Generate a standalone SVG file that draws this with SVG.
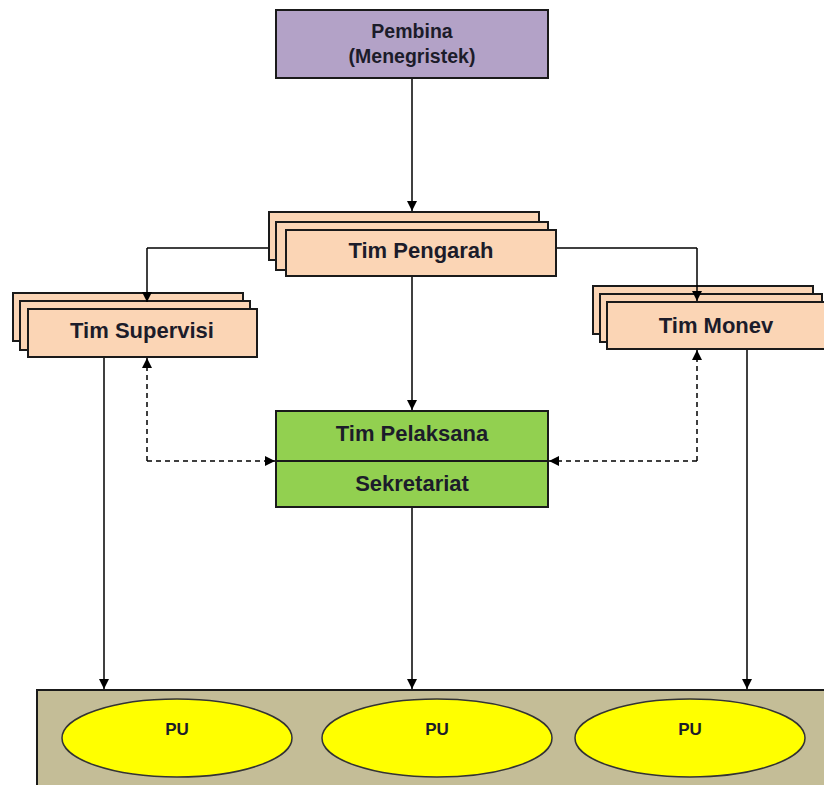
<svg xmlns="http://www.w3.org/2000/svg" width="824" height="785" viewBox="0 0 824 785">
<defs>
<style>
.box{stroke:#1a1a1a;stroke-width:2}
.peach{fill:#fbd5b5}
.t{font-family:"Liberation Sans",Arial,sans-serif;font-weight:bold;fill:#1c1c2a;text-anchor:middle}
.big{font-size:22px}
.mid{font-size:19.5px}
.sm{font-size:17px}
.ln{stroke:#000;stroke-width:1.5;fill:none}
.dash{stroke:#000;stroke-width:1.5;fill:none;stroke-dasharray:5,4}
</style>
<marker id="ah" viewBox="0 0 10 10" refX="10" refY="5" markerWidth="10" markerHeight="10" markerUnits="userSpaceOnUse" orient="auto">
<path d="M0,0 L10,5 L0,10 z" fill="#000"/>
</marker>
</defs>
<rect width="824" height="785" fill="#fff"/>

<g id="pu-area">
<rect x="37" y="690" width="800" height="110" fill="#c4bd97" class="box"/>
</g>
<g id="pu1"><ellipse cx="177" cy="738" rx="115" ry="39" fill="#ffff00" stroke="#333" stroke-width="1.5"/><text class="t sm" x="177" y="735">PU</text></g>
<g id="pu2"><ellipse cx="437" cy="738" rx="115" ry="39" fill="#ffff00" stroke="#333" stroke-width="1.5"/><text class="t sm" x="437" y="735">PU</text></g>
<g id="pu3"><ellipse cx="690" cy="738" rx="115" ry="39" fill="#ffff00" stroke="#333" stroke-width="1.5"/><text class="t sm" x="690" y="735">PU</text></g>

<g id="connectors-back">
<path class="ln" d="M269,248 H147"/>
<path class="ln" d="M556,248 H697"/>
</g>

<g id="pembina">
<rect x="276" y="10" width="272" height="68" fill="#b3a2c7" class="box"/>
<text class="t mid" x="412" y="38">Pembina</text>
<text class="t mid" x="412" y="63">(Menegristek)</text>
</g>

<g id="tim-pengarah">
<rect x="269" y="212" width="270" height="48" class="box peach"/>
<rect x="276" y="222" width="272" height="48" class="box peach"/>
<rect x="286" y="230" width="270" height="46" class="box peach"/>
<text class="t big" x="421" y="258">Tim Pengarah</text>
</g>

<g id="tim-supervisi">
<rect x="13" y="293" width="230" height="48" class="box peach"/>
<rect x="20" y="301" width="230" height="49" class="box peach"/>
<rect x="28" y="309" width="229" height="48" class="box peach"/>
<text class="t big" x="142" y="338">Tim Supervisi</text>
</g>

<g id="tim-monev">
<rect x="593" y="286" width="220" height="48" class="box peach"/>
<rect x="600" y="294" width="222" height="48" class="box peach"/>
<rect x="607" y="302" width="230" height="47" class="box peach"/>
<text class="t big" x="716" y="333">Tim Monev</text>
</g>

<g id="tim-pelaksana">
<rect x="276" y="411" width="272" height="96" fill="#92d050" class="box"/>
<line x1="276" y1="461" x2="548" y2="461" stroke="#1a1a1a" stroke-width="2"/>
<text class="t big" x="412" y="441">Tim Pelaksana</text>
<text class="t big" x="412" y="491">Sekretariat</text>
</g>

<g id="connectors">
<path class="ln" d="M412,79 V211" marker-end="url(#ah)"/>
<path class="ln" d="M147,248 V302" marker-end="url(#ah)"/>
<path class="ln" d="M697,248 V301" marker-end="url(#ah)"/>
<path class="ln" d="M412,277 V410" marker-end="url(#ah)"/>
<path class="ln" d="M104,358 V689" marker-end="url(#ah)"/>
<path class="ln" d="M412,508 V689" marker-end="url(#ah)"/>
<path class="ln" d="M747,350 V689" marker-end="url(#ah)"/>
<path class="dash" d="M147,461 V358" marker-end="url(#ah)"/>
<path class="dash" d="M147,461 H275" marker-end="url(#ah)"/>
<path class="dash" d="M697,461 V350" marker-end="url(#ah)"/>
<path class="dash" d="M697,461 H549" marker-end="url(#ah)"/>
</g>
</svg>
